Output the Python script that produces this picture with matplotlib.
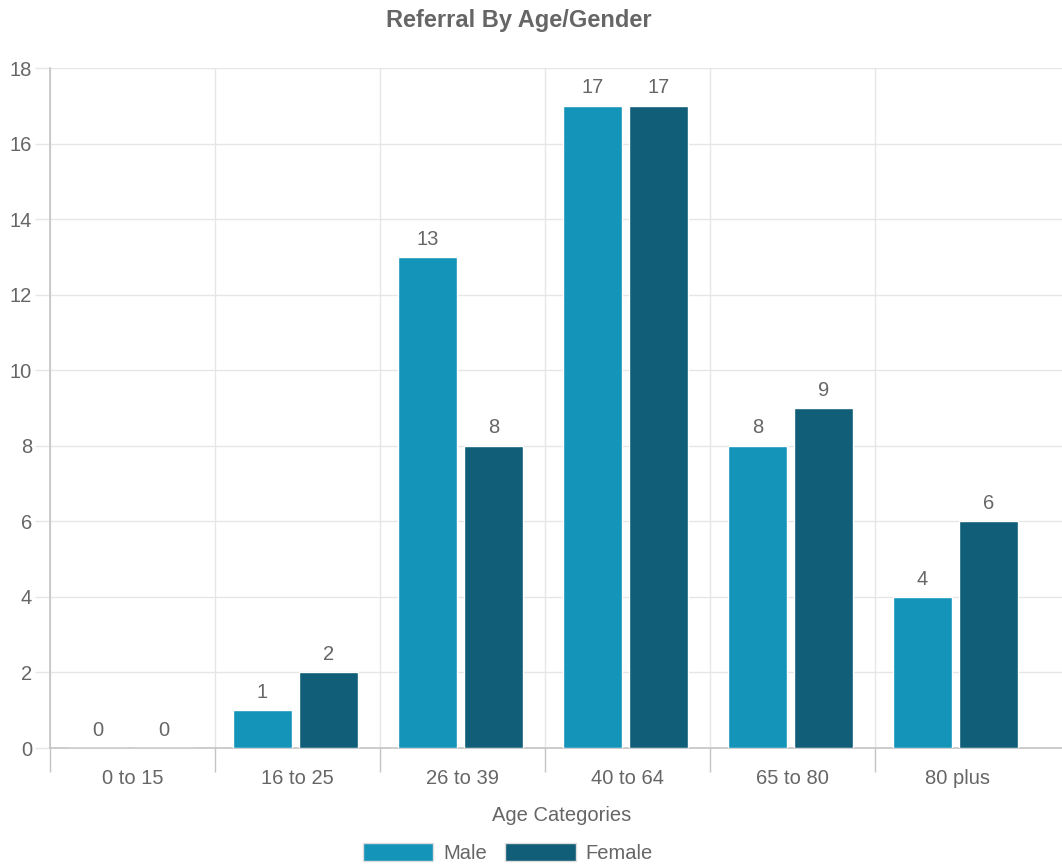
import numpy as np
import matplotlib
matplotlib.use("Agg")
import matplotlib.pyplot as plt

plt.rcParams['font.family'] = ['Liberation Sans', 'DejaVu Sans']

# Data
categories = ['0 to 15', '16 to 25', '26 to 39', '40 to 64', '65 to 80', '80 plus']
male = [0, 1, 13, 17, 8, 4]
female = [0, 2, 8, 17, 9, 6]

male_color = '#1594BA'
female_color = '#115E78'
text_color = '#666666'
grid_color = '#e6e6e6'
axis_color = '#c4c4c4'
fs = 14.5

fig = plt.figure(figsize=(10.62, 8.66), dpi=100)
ax = fig.add_axes([50 / 1062, 118 / 866, 1012 / 1062, 680 / 866])

x = np.arange(len(categories))
w = 0.36
shift = -0.012
b1 = ax.bar(x - 0.2 + shift, male, w, color=male_color, edgecolor='white', linewidth=1, label='Male', zorder=3)
b2 = ax.bar(x + 0.2 + shift, female, w, color=female_color, edgecolor='white', linewidth=1, label='Female', zorder=3)

# value labels above bars
for bars, vals in ((b1, male), (b2, female)):
    for bar, v in zip(bars, vals):
        ax.text(bar.get_x() + bar.get_width() / 2, v + 0.22, str(v),
                ha='center', va='bottom', fontsize=fs, color=text_color)

ax.set_ylim(0, 18)
ax.set_xlim(-0.5, 5.5 + 22 / 165)
ax.set_yticks(range(0, 19, 2))

# vertical grid at category boundaries
ax.set_xticks(np.arange(-0.5, 5, 1), minor=True)
ax.set_xticks(x)
ax.set_xticklabels(categories)
ax.grid(axis='y', color=grid_color, linewidth=1, zorder=0)
ax.grid(axis='x', which='minor', color=grid_color, linewidth=1, zorder=0)
ax.tick_params(axis='x', which='major', length=0, pad=15, labelsize=fs, labelcolor=text_color)
ax.tick_params(axis='x', which='minor', length=17, color=axis_color, width=1)
ax.tick_params(axis='y', length=11, color=grid_color, width=1, pad=2, labelsize=fs, labelcolor=text_color)

for side in ('top', 'right'):
    ax.spines[side].set_visible(False)
for side in ('left', 'bottom'):
    ax.spines[side].set_color(axis_color)
    ax.spines[side].set_linewidth(1.2)

ax.set_xlabel('Age Categories', fontsize=fs, color=text_color)
ax.xaxis.set_label_coords(512 / 1012, -58 / 680)

fig.text(519 / 1062, 1 - 20 / 866, 'Referral By Age/Gender', ha='center', va='center',
         fontsize=17, fontweight='bold', color=text_color)

leg = fig.legend(handles=[b1, b2], labels=['Male', 'Female'], loc='center',
                 bbox_to_anchor=(508 / 1062, 1 - 853 / 866), ncol=2, frameon=False,
                 fontsize=fs, handlelength=3.5, handleheight=1.0, handletextpad=0.5,
                 columnspacing=0.9, labelcolor=text_color)
for h in leg.legend_handles:
    h.set_edgecolor('#dddddd')

fig.savefig('out.png', dpi=100)
